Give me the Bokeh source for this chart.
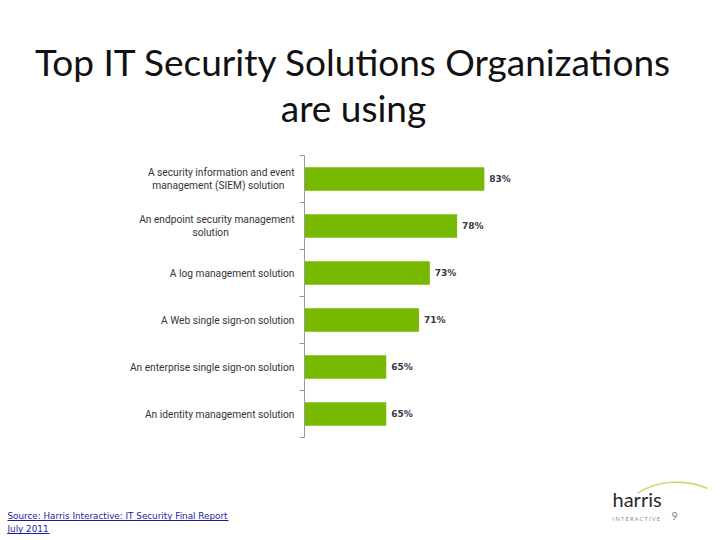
from bokeh.plotting import figure
from bokeh.models import Range1d, FixedTicker, ColumnDataSource
from bokeh.core.properties import value
from bokeh.layouts import column
from bokeh.embed import file_html
from bokeh.resources import INLINE

NB = "\u00a0"
categories = [
    "A security information and event\nmanagement (SIEM) solution" + NB * 4,
    "An endpoint security management\nsolution" + NB * 26,
    "A log management solution",
    "A Web single sign-on solution",
    "An enterprise single sign-on solution",
    "An identity management solution",
]
values = [83, 78, 73, 71, 65, 65]
value_labels = ["83%", "78%", "73%", "71%", "65%", "65%"]
title_lines = ["Top IT Security Solutions Organizations", "are using"]
source_lines = ["Source: Harris Interactive: IT Security Final Report", "July 2011"]
logo_text = "harris"
logo_sub = "I N T E R A C T I V E"
page_number = "9"

W = 720
TOP_H, CHART_H, FOOT_H = 155, 290, 95


def text_fig(h, y0):
    f = figure(width=W, height=h, output_backend="svg", toolbar_location=None,
               x_range=Range1d(0, W), y_range=Range1d(y0 + h, y0),
               min_border=0, frame_align=False)
    f.axis.visible = False
    f.grid.visible = False
    f.outline_line_color = None
    return f


# ---- title ----
top = text_fig(TOP_H, 0)
top.text(x=[353, 353], y=[61, 107], text=title_lines, text_align="center",
         text_baseline="alphabetic", text_font=value("Lato"), text_font_size="37px",
         text_color="#111111")

# ---- chart ----
n = len(categories)
ypos = [n - 0.5 - i for i in range(n)]
p = figure(width=W, height=CHART_H, output_backend="svg", toolbar_location=None,
           x_range=Range1d(50, 90), y_range=Range1d(0, n),
           min_border_left=304, min_border_right=W - 522,
           min_border_top=0, min_border_bottom=CHART_H - 282, frame_align=False)
p.outline_line_color = None
p.grid.visible = False
p.xaxis.visible = False

src = ColumnDataSource(dict(y=ypos, v=values, lab=value_labels))
p.hbar(y="y", left=50, right="v", height=0.5, source=src,
       fill_color="#76B900", line_color=None)
p.text(x="v", y="y", text="lab", source=src, x_offset=5,
       text_baseline="middle", text_align="left",
       text_font=value("DejaVu Sans"), text_font_style="bold",
       text_font_size="9px", text_color="#363645")

ya = p.yaxis[0]
ya.ticker = FixedTicker(ticks=ypos, minor_ticks=list(range(n + 1)))
ya.major_label_overrides = {y: c for y, c in zip(ypos, categories)}
ya.major_tick_line_color = None
ya.major_tick_out = 0
ya.major_tick_in = 0
ya.minor_tick_out = 5
ya.minor_tick_in = 0
ya.minor_tick_line_color = "#9a9a9a"
ya.axis_line_color = "#9a9a9a"
ya.major_label_standoff = 5
ya.major_label_text_font = "Roboto"
ya.major_label_text_font_size = "10.2px"
ya.major_label_text_color = "#353535"

# ---- footer ----
y0 = TOP_H + CHART_H
foot = text_fig(FOOT_H, y0)
foot.text(x=[7, 7], y=[515, 528], text=source_lines, text_align="left",
          text_baseline="alphabetic", text_font=value("DejaVu Sans"),
          text_font_size="8.8px", text_color="#1a1aa6")
foot.segment(x0=[7, 7], y0=[520, 533], x1=[228, 49], y1=[520, 533],
             line_color="#1a1aa6", line_width=1)
foot.bezier(x0=[637], y0=[493], x1=[707], y1=[488], cx0=[655], cy0=[480],
            cx1=[685], cy1=[478], line_color="#c9d65a", line_width=1.5)
foot.text(x=[612], y=[498], text=[logo_text], text_align="left",
          text_baseline="alphabetic", text_font=value("Lato"), text_font_size="20px",
          text_color="#2a2a2a")
foot.text(x=[612], y=[518], text=[logo_sub], text_align="left",
          text_baseline="middle", text_font=value("Lato"), text_font_size="5.5px",
          text_color="#888888")
foot.text(x=[671], y=[515], text=[page_number], text_align="left",
          text_baseline="middle", text_font=value("Lato"), text_font_size="11px",
          text_color="#888888")

layout = column(top, p, foot, spacing=0)
open("out.html", "w").write(file_html(layout, INLINE))
